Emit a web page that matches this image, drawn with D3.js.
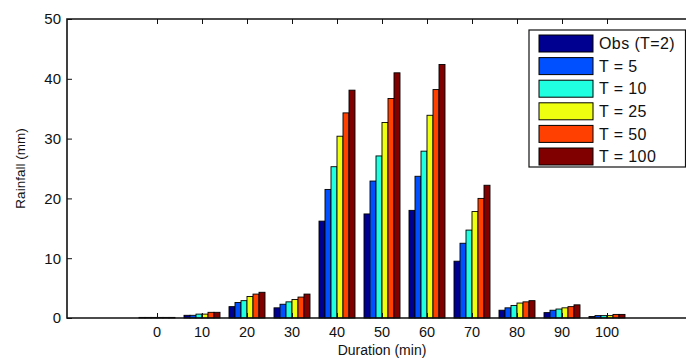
<!DOCTYPE html>
<html>
<head>
<meta charset="utf-8">
<script src="https://cdn.jsdelivr.net/npm/d3@7"></script>
<style>
  body { margin: 0; background: #fff; }
  svg { display: block; font-family: "Liberation Sans", Arial, sans-serif; }
</style>
</head>
<body>
<div id="chart"></div>
<script>
const durations = [0, 10, 20, 30, 40, 50, 60, 70, 80, 90, 100];
const seriesNames = ["Obs (T=2)", "T = 5", "T = 10", "T = 25", "T = 50", "T = 100"];
const colors = ["#000090", "#0050ff", "#20ffdf", "#efff10", "#ff4000", "#800000"];

const obs  = [0.1, 0.45, 1.9, 1.7, 16.2, 17.4, 18.0, 9.5, 1.3, 0.9, 0.25];
const t5   = [0.1, 0.45, 2.6, 2.3, 21.5, 22.9, 23.7, 12.5, 1.7, 1.3, 0.4];
const t10  = [0.1, 0.65, 2.9, 2.7, 25.3, 27.1, 27.9, 14.7, 2.1, 1.5, 0.4];
const t25  = [0.1, 0.65, 3.6, 3.1, 30.4, 32.7, 33.9, 17.8, 2.5, 1.7, 0.4];
const t50  = [0.1, 0.95, 4.0, 3.5, 34.3, 36.7, 38.2, 20.0, 2.7, 1.9, 0.6];
const t100 = [0.1, 0.95, 4.3, 4.0, 38.1, 41.0, 42.4, 22.2, 2.9, 2.2, 0.6];
const series = [obs, t5, t10, t25, t50, t100];

const yTicks = [0, 10, 20, 30, 40, 50];

const width = 686, height = 358;
const margin = { top: 19, right: -11, bottom: 40, left: 67 };

const svg = d3.select("#chart").append("svg")
  .attr("width", width)
  .attr("height", height);

const x = d3.scaleLinear()
  .domain([-20, 120])
  .range([margin.left, width - margin.right]);

const y = d3.scaleLinear()
  .domain([0, 50])
  .range([height - margin.bottom, margin.top]);

// offsets of the 6 bars inside one group (0.8 of the spacing)
const step = x(10) - x(0);
const inner = d3.scaleBand()
  .domain(d3.range(series.length))
  .range([-step * 0.4, step * 0.4]);

const bars = svg.append("g");
series.forEach((vals, s) => {
  bars.selectAll(null)
    .data(vals)
    .join("rect")
    .attr("x", (d, i) => x(durations[i]) + inner(s))
    .attr("width", inner.bandwidth())
    .attr("y", d => y(d))
    .attr("height", d => y(0) - y(d))
    .attr("fill", colors[s])
    .attr("stroke", "#000")
    .attr("stroke-width", 0.9);
});

// axes, MATLAB style: ticks pointing inward, box on top
const axisColor = "#111";
const yAxis = svg.append("g")
  .attr("transform", `translate(${x(-20)},0)`)
  .call(d3.axisRight(y).tickValues(yTicks).tickSize(5).tickFormat(""));
yAxis.select(".domain").remove();

svg.append("g")
  .attr("transform", `translate(0,${y(0)})`)
  .call(d3.axisTop(x).tickValues(durations).tickSize(5).tickFormat(""))
  .select(".domain").remove();

svg.append("g")
  .attr("transform", `translate(0,${y(50)})`)
  .call(d3.axisBottom(x).tickValues(durations).tickSize(5).tickFormat(""))
  .select(".domain").remove();

svg.selectAll(".tick line").attr("stroke", axisColor).attr("stroke-width", 1);

svg.append("path")
  .attr("d", `M${x(120)},${y(50)}H${x(-20)}V${y(0)}H${x(120)}`)
  .attr("fill", "none")
  .attr("stroke", axisColor)
  .attr("stroke-width", 1.6);

// tick labels
svg.append("g").selectAll("text")
  .data(yTicks)
  .join("text")
  .attr("x", x(-20) - 6)
  .attr("y", d => y(d))
  .attr("dy", "0.36em")
  .attr("text-anchor", "end")
  .attr("font-size", 15)
  .attr("fill", "#111")
  .text(d => d);

svg.append("g").selectAll("text")
  .data(durations)
  .join("text")
  .attr("x", d => x(d))
  .attr("y", y(0) + 19)
  .attr("text-anchor", "middle")
  .attr("font-size", 14.5)
  .attr("fill", "#111")
  .text(d => d);

svg.append("text")
  .attr("x", (x(-20) + x(120)) / 2)
  .attr("y", height - 3)
  .attr("text-anchor", "middle")
  .attr("font-size", 14)
  .attr("fill", "#111")
  .text("Duration (min)");

svg.append("text")
  .attr("transform", `translate(25,${(y(0) + y(50)) / 2}) rotate(-90)`)
  .attr("text-anchor", "middle")
  .attr("font-size", 13.5)
  .attr("fill", "#111")
  .text("Rainfall (mm)");

// legend
const legend = svg.append("g").attr("transform", "translate(529,30)");
legend.append("rect")
  .attr("width", 156.5)
  .attr("height", 137)
  .attr("fill", "#fff")
  .attr("stroke", "#111")
  .attr("stroke-width", 1.2);

const rowH = 22.6;
const item = legend.selectAll("g.item")
  .data(seriesNames)
  .join("g")
  .attr("class", "item")
  .attr("transform", (d, i) => `translate(0,${5 + i * rowH})`);

item.append("rect")
  .attr("x", 10)
  .attr("width", 54)
  .attr("height", 17)
  .attr("fill", (d, i) => colors[i])
  .attr("stroke", "#000")
  .attr("stroke-width", 1);

item.append("text")
  .attr("x", 70)
  .attr("y", 8.5)
  .attr("dy", "0.36em")
  .attr("font-size", 16)
  .attr("letter-spacing", "0.4px")
  .attr("fill", "#111")
  .text(d => d);
</script>
</body>
</html>
